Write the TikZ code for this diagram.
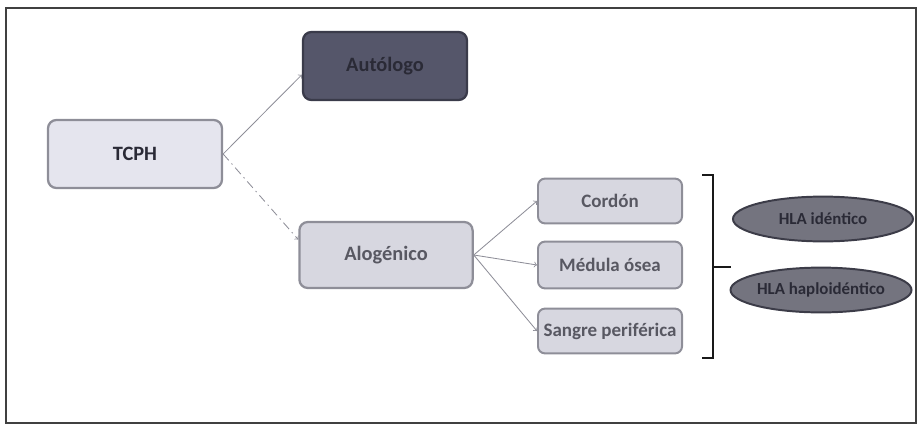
\documentclass[tikz,border=0pt]{standalone}
\usepackage{fontspec}
\setmainfont{Carlito}
\usetikzlibrary{shapes.geometric,arrows}

\definecolor{boxfill}{HTML}{E5E5EE}
\definecolor{boxline}{HTML}{8E8E98}
\definecolor{autofill}{HTML}{55566A}
\definecolor{autoline}{HTML}{3A3B4A}
\definecolor{alofill}{HTML}{D7D7E0}
\definecolor{ellfill}{HTML}{74747F}
\definecolor{ellline}{HTML}{3C3C48}
\definecolor{txtdark}{HTML}{2A2A36}
\definecolor{txtgray}{HTML}{585862}

\begin{document}
\begin{tikzpicture}[x=0.025cm,y=-0.025cm, %pixel grid of the slide
		bigbox/.style={draw=boxline,line width=1.6pt,rounded corners=6pt,fill=boxfill,
			minimum width=4.35cm,minimum height=1.7cm,font=\fontsize{14.5}{16}\selectfont\bfseries},
		smallbox/.style={draw=boxline,line width=1.4pt,rounded corners=5pt,fill=alofill,
			minimum width=3.6cm,minimum height=1.12cm,text=txtgray,font=\fontsize{13.5}{15}\selectfont\bfseries},
		hla/.style={ellipse,draw=ellline,line width=1.4pt,fill=ellfill,minimum width=4.5cm,
			minimum height=1.12cm,inner sep=0pt,text=txtdark,font=\fontsize{12}{13}\selectfont\bfseries},
		link/.style={draw=boxline,line width=0.6pt,->}]
	\useasboundingbox (0,0) rectangle (924,426);
	\draw[line width=0.8pt,black!75] (6,8) rectangle (916,423);
	% left column
	\node[bigbox,text=txtdark] (tcph) at (135,154) {TCPH};
	\node[bigbox,fill=autofill,draw=autoline,minimum width=4.1cm,text=txtdark] (auto) at (385,66) {Autólogo};
	\node[bigbox,fill=alofill,minimum width=4.33cm,minimum height=1.65cm,text=txtgray] (alo) at (386,255) {Alogénico};
	% sources
	\node[smallbox] (cord) at (610,201) {Cordón};
	\node[smallbox,minimum height=1.17cm] (med) at (610,265) {Médula ósea};
	\node[smallbox] (sangre) at (610,331) {Sangre periférica};
	% HLA
	\node[hla] (iden) at (823,219) {HLA idéntico};
	\node[hla] (haplo) at (821,290) {HLA haploidéntico};
	% arrows
	\draw[link] (tcph.east) -- (auto.186);
	\draw[link,dash pattern=on 6pt off 3pt on 1pt off 3pt] (tcph.east) -- (alo.170);
	\foreach \s in {cord,med,sangre}
		{\draw[link] (alo.east) -- (\s.west);};
	% bracket
	\draw[line width=1.6pt,black!90] (702,175) -- (713,175) -- (713,358) -- (702,358);
	\draw[line width=1.6pt,black!90] (713,267) -- (731,267);
\end{tikzpicture}
\end{document}
